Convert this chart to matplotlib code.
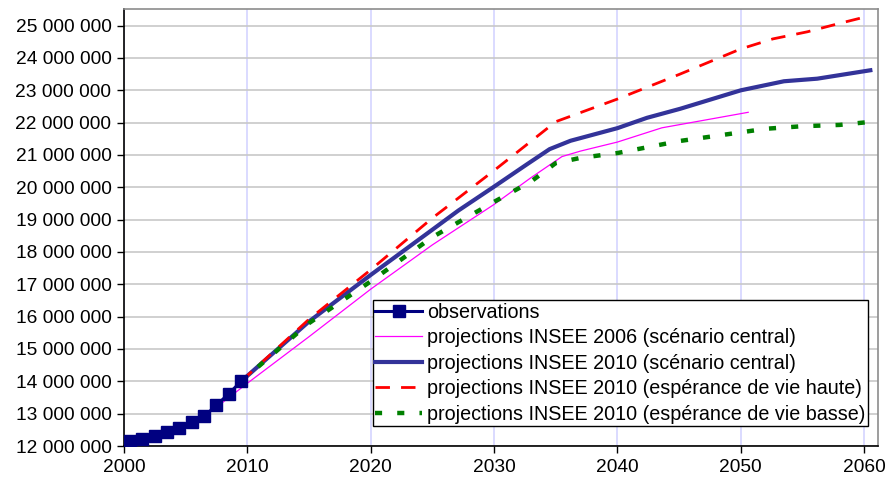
import matplotlib
matplotlib.use("Agg")
import matplotlib.pyplot as plt
from matplotlib.ticker import FuncFormatter, MultipleLocator

plt.rcParams["font.family"] = ["Liberation Sans", "DejaVu Sans"]

# observations (population, millions)
obs_years = [2000.5, 2001.5, 2002.5, 2003.5, 2004.5, 2005.5, 2006.5, 2007.5, 2008.5, 2009.5]
obs_values = [12.15, 12.23, 12.31, 12.43, 12.56, 12.75, 12.92, 13.26, 13.62, 14.0]

# projections INSEE 2006, scenario central
p2006_years = [2005.5, 2007.5, 2010, 2015, 2020, 2025, 2030, 2033, 2035.5, 2037, 2040, 2043.6, 2050.6]
p2006_values = [12.72, 13.2, 13.94, 15.38, 16.85, 18.22, 19.47, 20.3, 20.95, 21.12, 21.4, 21.84, 22.32]

# projections INSEE 2010, scenario central
central_years = [2009.5, 2015, 2020, 2025, 2027.1, 2030, 2032.7, 2034.5, 2036.2,
                 2040, 2042.4, 2045.1, 2050, 2053.5, 2056.2, 2060.5]
central_values = [14.0, 15.85, 17.29, 18.69, 19.28, 20.02, 20.72, 21.18, 21.44,
                  21.83, 22.15, 22.43, 23.0, 23.28, 23.36, 23.62]

# projections INSEE 2010, esperance de vie haute
high_years = [2009.5, 2015, 2020, 2025, 2026.4, 2030, 2035, 2040, 2045, 2050, 2052.6, 2055.4, 2058, 2060.1]
high_values = [14.0, 15.92, 17.45, 19.05, 19.46, 20.52, 22.03, 22.73, 23.49, 24.28, 24.59, 24.81, 25.07, 25.27]

# projections INSEE 2010, esperance de vie basse
low_years = [2009.5, 2015, 2020, 2025, 2030, 2033, 2035, 2037, 2040, 2045, 2050, 2052, 2055, 2058, 2060.4]
low_values = [14.0, 15.8, 17.09, 18.46, 19.55, 20.18, 20.75, 20.91, 21.06, 21.43, 21.7, 21.81, 21.89, 21.93, 22.02]

labels = [
    "observations",
    "projections INSEE 2006 (scénario central)",
    "projections INSEE 2010 (scénario central)",
    "projections INSEE 2010 (espérance de vie haute)",
    "projections INSEE 2010 (espérance de vie basse)",
]

M = 1e6

fig = plt.figure(figsize=(8.95, 4.86), dpi=100)
ax = fig.add_axes([0.1385, 0.0823, 0.8422, 0.8982])

ax.plot(p2006_years, [v * M for v in p2006_values], color="#ff00ff", lw=0.9,
        label=labels[1], zorder=3)
ax.plot(central_years, [v * M for v in central_values], color="#333399", lw=3.0,
        label=labels[2], zorder=4)
ax.plot(high_years, [v * M for v in high_values], color="#ff0000", lw=2.0,
        dashes=(5.2, 4.0), label=labels[3], zorder=5)
ax.plot(low_years, [v * M for v in low_values], color="#008000", lw=3.2,
        dashes=(1.6, 3.4), label=labels[4], zorder=5)
ax.plot(obs_years, [v * M for v in obs_values], color="#000080", lw=2.2,
        marker="s", markersize=9, label=labels[0], zorder=6)

ax.set_xlim(2000, 2061.1)
ax.set_ylim(12e6, 25.5e6)
ax.xaxis.set_major_locator(MultipleLocator(10))
ax.yaxis.set_major_locator(MultipleLocator(1e6))
ax.yaxis.set_major_formatter(FuncFormatter(lambda v, p: f"{int(round(v)):,}".replace(",", " ")))

ax.grid(axis="y", color="#c8c8c8", lw=1.2, zorder=0)
ax.grid(axis="x", color="#d4d4ff", lw=1.2, zorder=0)
ax.set_axisbelow(True)

for s in ["top", "right"]:
    ax.spines[s].set_color("#8c8c8c")
    ax.spines[s].set_linewidth(1.2)
for s in ["left", "bottom"]:
    ax.spines[s].set_color("#000000")
    ax.spines[s].set_linewidth(1.2)

ax.tick_params(axis="both", direction="out", length=5, width=1.0, labelsize=13.8,
               colors="#000000", pad=4)

h, l = ax.get_legend_handles_labels()
order = [4, 0, 1, 2, 3]
leg = ax.legend([h[i] for i in order], [l[i] for i in order],
                loc="lower left", bbox_to_anchor=(0.3304, 0.0458, 0.6566, 0.2887),
                mode="expand", fontsize=14.2, frameon=True, fancybox=False,
                edgecolor="#000000", framealpha=1.0, borderpad=0.12,
                labelspacing=0.33, handlelength=2.35, handletextpad=0.25,
                borderaxespad=0, numpoints=1)
leg.get_frame().set_linewidth(1.0)

fig.savefig("out.png", dpi=100)
